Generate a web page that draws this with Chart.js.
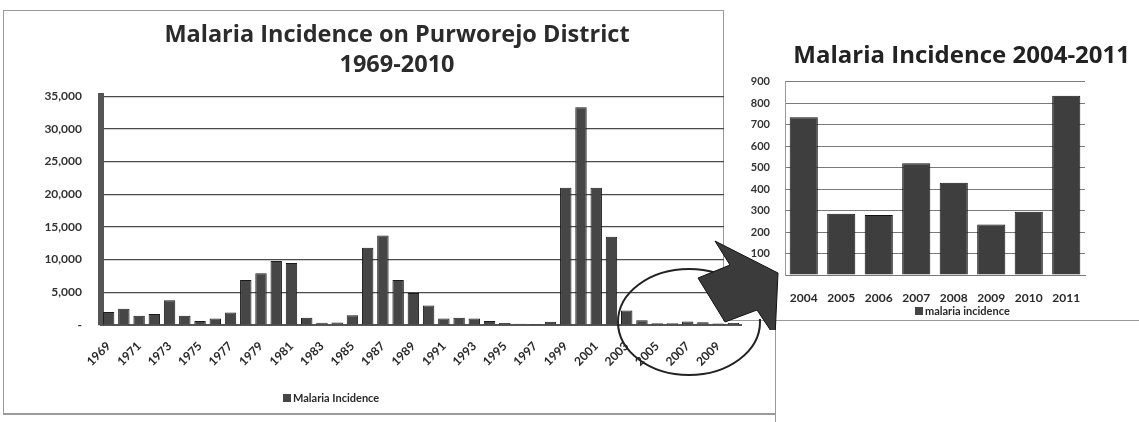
<!DOCTYPE html>
<html>
<head>
<meta charset="utf-8">
<script src="https://cdn.jsdelivr.net/npm/chart.js@4.4.0/dist/chart.umd.min.js"></script>
<style>
  body { margin: 0; background: #fff; }
  #page { position: relative; width: 1139px; height: 422px; overflow: hidden; background: #fff; }
  .box { position: absolute; }
  .ln { position: absolute; background: #9a9a9a; }
</style>
</head>
<body>
<div id="page">
  <div class="ln" style="left:3px;top:10px;width:720px;height:1px"></div>
  <div class="ln" style="left:3px;top:10px;width:1px;height:403px"></div>
  <div class="ln" style="left:3px;top:413px;width:772px;height:2px"></div>
  <div class="ln" style="left:723px;top:10px;width:1px;height:310px"></div>
  <div class="ln" style="left:723px;top:320px;width:416px;height:1px"></div>
  <div class="ln" style="left:775px;top:321px;width:1px;height:101px"></div>
  <div class="box" style="left:0;top:0;width:790px;height:422px;z-index:1"><canvas id="leftChart"></canvas></div>
  <div class="box" style="left:690px;top:0;width:449px;height:330px;z-index:2"><canvas id="rightChart"></canvas></div>
</div>
<script>
// data
const yearsLeft = ['1969','1970','1971','1972','1973','1974','1975','1976','1977','1978',
    '1979','1980','1981','1982','1983','1984','1985','1986','1987','1988',
    '1989','1990','1991','1992','1993','1994','1995','1996','1997','1998',
    '1999','2000','2001','2002','2003','2004','2005','2006','2007','2008',
    '2009','2010'];
const incidenceLeft = [2000, 2500, 1400, 1700, 3800, 1400, 600, 1000, 1900, 6900,
    7900, 9800, 9500, 1100, 350, 400, 1500, 11800, 13700, 6900,
    4900, 3000, 1000, 1100, 1000, 600, 300, 200, 150, 500,
    21000, 33300, 21000, 13500, 2200, 735, 285, 280, 520, 430,
    235, 295];

const yearsRight = ['2004','2005','2006','2007','2008','2009','2010','2011'];
const incidenceRight = [735, 285, 280, 520, 430, 235, 295, 835];

const barFill = '#464646';
const barEdge = '#1a1a1a';
const fontFamily = 'Lato, "Open Sans", sans-serif';
const titleFamily = '"Open Sans", Lato, sans-serif';

// legend square + text, placed under the axis labels
function floorLegend(id, text, dx, dy, size) {
    return {
        id: id,
        afterDraw(chart) {
            const ctx = chart.ctx;
            const x = chart.chartArea.left + dx;
            const y = chart.chartArea.bottom + dy;
            ctx.save();
            ctx.fillStyle = barFill;
            ctx.fillRect(x, y - 4, 8, 8);
            ctx.fillStyle = '#2a2a2a';
            ctx.font = 'bold ' + size + 'px ' + fontFamily;
            ctx.textBaseline = 'middle';
            ctx.fillText(text, x + 10, y);
            ctx.restore();
        }
    };
}

// circle round the last years of the long series
const ring = {
    id: 'ring',
    afterDraw(chart) {
        const ctx = chart.ctx;
        const r = chart.chartArea.right;
        const b = chart.chartArea.bottom;
        ctx.save();
        ctx.strokeStyle = '#222';
        ctx.lineWidth = 2;
        ctx.beginPath();
        ctx.ellipse(r - 52, b - 3, 71, 53, 0, 0, Math.PI * 2);
        ctx.stroke();
        ctx.restore();
    }
};

// white panel of the inset chart, and the block arrow that points at it
const panel = {
    id: 'panel',
    beforeDraw(chart) {
        const ctx = chart.ctx;
        ctx.save();
        ctx.fillStyle = '#fff';
        ctx.fillRect(34, 11, chart.width - 34, 308);
        ctx.restore();
    },
    afterDraw(chart) {
        const ctx = chart.ctx;
        const l = chart.chartArea.left;
        const b = chart.chartArea.bottom;
        const pts = [[-87, 3], [-55, -10], [-70, -34], [-7, -2], [-10, 62], [-28, 35], [-60, 47]];
        ctx.save();
        ctx.beginPath();
        pts.forEach(function(p, i) {
            if (i === 0) ctx.moveTo(l + p[0], b + p[1]);
            else ctx.lineTo(l + p[0], b + p[1]);
        });
        ctx.closePath();
        ctx.fillStyle = '#3b3b3b';
        ctx.fill();
        ctx.strokeStyle = '#111';
        ctx.lineWidth = 1;
        ctx.stroke();
        ctx.restore();
    }
};

Chart.defaults.color = '#2a2a2a';
Chart.defaults.font.family = fontFamily;

new Chart(document.getElementById('leftChart'), {
    type: 'bar',
    data: {
        labels: yearsLeft,
        datasets: [{
            label: 'Malaria Incidence',
            data: incidenceLeft,
            backgroundColor: barFill,
            borderColor: barEdge,
            borderWidth: 1,
            barPercentage: 0.75,
            categoryPercentage: 1
        }]
    },
    options: {
        responsive: true,
        maintainAspectRatio: false,
        animation: false,
        layout: { padding: { left: 20, right: 16, top: 0, bottom: 37 } },
        plugins: {
            legend: { display: false },
            tooltip: { enabled: false },
            title: {
                display: true,
                text: ['Malaria Incidence on Purworejo District', '1969-2010'],
                color: '#2b2b2b',
                font: { family: titleFamily, size: 23.5, weight: 'bold', lineHeight: 1.28 },
                padding: { top: 20, bottom: 16 }
            }
        },
        scales: {
            x: {
                grid: { display: false },
                border: { display: true, color: '#555', width: 2 },
                afterFit: function(scale) { scale.height = 60; },
                ticks: {
                    autoSkip: false,
                    minRotation: 45,
                    maxRotation: 45,
                    padding: 6,
                    font: { size: 12, weight: 'bold' },
                    callback: function(v, i) { return i % 2 === 0 ? this.getLabelForValue(v) : ''; }
                }
            },
            y: {
                min: 0,
                max: 35000,
                afterFit: function(scale) { scale.width = 81; },
                grid: { color: '#4a4a4a', lineWidth: 1.2, drawTicks: false },
                border: { display: true, color: '#555', width: 6 },
                ticks: {
                    stepSize: 5000,
                    padding: 19,
                    font: { size: 12, weight: 'bold' },
                    color: '#333',
                    callback: function(v) { return v === 0 ? '-' : v.toLocaleString('en-US'); }
                }
            },
            spacer: {
                type: 'linear',
                position: 'right',
                afterFit: function(scale) { scale.width = 33; },
                grid: { display: false },
                border: { display: false },
                ticks: { display: false }
            }
        }
    },
    plugins: [floorLegend('leftLegend', 'Malaria Incidence', 182, 73, 11), ring]
});

new Chart(document.getElementById('rightChart'), {
    type: 'bar',
    data: {
        labels: yearsRight,
        datasets: [{
            label: 'malaria incidence',
            data: incidenceRight,
            backgroundColor: '#3e3e3e',
            borderColor: '#121212',
            borderWidth: 1,
            barPercentage: 0.75,
            categoryPercentage: 1
        }]
    },
    options: {
        responsive: true,
        maintainAspectRatio: false,
        animation: false,
        layout: { padding: { left: 0, right: 9, top: 0, bottom: 19 } },
        plugins: {
            legend: { display: false },
            tooltip: { enabled: false },
            title: {
                display: true,
                align: 'end',
                text: 'Malaria Incidence 2004-2011',
                color: '#222',
                font: { family: titleFamily, size: 24, weight: 'bold', lineHeight: 1.2 },
                padding: { top: 42, bottom: 11 }
            }
        },
        scales: {
            x: {
                grid: { display: false, drawTicks: false },
                border: { display: true, color: '#777', width: 1 },
                afterFit: function(scale) { scale.height = 36; },
                ticks: {
                    autoSkip: false,
                    maxRotation: 0,
                    padding: 16,
                    font: { size: 12, weight: 'bold' }
                }
            },
            y: {
                min: 0,
                max: 900,
                afterFit: function(scale) { scale.width = 95; },
                grid: { color: '#7a7a7a', lineWidth: 1, drawTicks: false },
                border: { display: true, color: '#999', width: 1 },
                ticks: {
                    stepSize: 100,
                    padding: 15,
                    font: { size: 11, weight: 'bold' },
                    color: '#333',
                    callback: function(v) { return v === 0 ? '' : v; }
                }
            },
            spacer: {
                type: 'linear',
                position: 'right',
                afterFit: function(scale) { scale.width = 45; },
                grid: { display: false },
                border: { display: false },
                ticks: { display: false }
            }
        }
    },
    plugins: [panel, floorLegend('rightLegend', 'malaria incidence', 130, 36, 11)]
});
</script>
</body>
</html>
